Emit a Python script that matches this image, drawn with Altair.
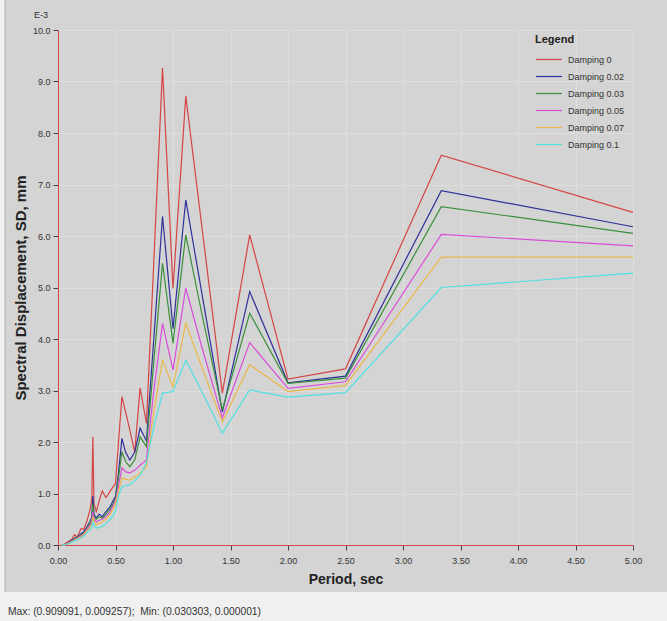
import altair as alt
import pandas as pd

periods = [0.0303, 0.05, 0.067, 0.083, 0.1, 0.125, 0.143, 0.167, 0.2, 0.222, 0.25, 0.278,
           0.294, 0.303, 0.313, 0.333, 0.357, 0.385, 0.417, 0.455, 0.5, 0.526, 0.556, 0.588,
           0.625, 0.667, 0.714, 0.769, 0.833, 0.909, 1.0, 1.111, 1.25, 1.429, 1.667, 2.0,
           2.5, 3.333, 5.0]

d0 = [0.001, 0.01, 0.03, 0.06, 0.08, 0.12, 0.2, 0.15, 0.32, 0.3, 0.45, 0.68,
      0.9, 2.1, 0.8, 0.65, 0.85, 1.05, 0.92, 1.05, 1.2, 2.0, 2.88, 2.58,
      2.23, 1.8, 3.05, 2.36, 5.5, 9.26, 4.98, 8.72, 6.2, 2.95, 6.02, 3.22,
      3.42, 7.57, 6.46]
d002 = [0.001, 0.005, 0.02, 0.04, 0.06, 0.1, 0.13, 0.15, 0.22, 0.25, 0.35, 0.45,
        0.55, 0.95, 0.6, 0.52, 0.6, 0.55, 0.65, 0.75, 0.95, 1.4, 2.07, 1.8,
        1.65, 1.8, 2.27, 2.02, 4.0, 6.38, 4.2, 6.7, 4.9, 2.58, 4.92, 3.15,
        3.28, 6.88, 6.18]
d003 = [0.001, 0.005, 0.015, 0.035, 0.05, 0.09, 0.12, 0.14, 0.2, 0.23, 0.32, 0.42,
        0.5, 0.8, 0.55, 0.5, 0.55, 0.52, 0.6, 0.7, 0.9, 1.3, 1.81, 1.62,
        1.52, 1.65, 2.1, 1.91, 3.55, 5.47, 3.92, 6.02, 4.5, 2.62, 4.5, 3.14,
        3.24, 6.57, 6.05]
d005 = [0.001, 0.004, 0.012, 0.03, 0.045, 0.08, 0.1, 0.13, 0.18, 0.21, 0.3, 0.38,
        0.45, 0.65, 0.5, 0.45, 0.48, 0.5, 0.55, 0.65, 0.85, 1.15, 1.5, 1.42,
        1.4, 1.45, 1.55, 1.65, 3.0, 4.3, 3.4, 4.99, 3.85, 2.47, 3.93, 3.04,
        3.17, 6.03, 5.81]
d007 = [0.001, 0.003, 0.01, 0.025, 0.04, 0.07, 0.09, 0.12, 0.16, 0.19, 0.27, 0.35,
        0.4, 0.55, 0.45, 0.4, 0.42, 0.45, 0.5, 0.6, 0.8, 1.05, 1.3, 1.28,
        1.26, 1.32, 1.4, 1.52, 2.6, 3.59, 3.07, 4.31, 3.45, 2.39, 3.5, 2.98,
        3.1, 5.59, 5.59]
d01 = [0.001, 0.003, 0.008, 0.02, 0.035, 0.06, 0.08, 0.1, 0.14, 0.17, 0.24, 0.3,
       0.35, 0.45, 0.38, 0.33, 0.34, 0.36, 0.42, 0.5, 0.65, 0.95, 1.13, 1.15,
       1.17, 1.25, 1.35, 1.6, 2.3, 2.95, 2.98, 3.59, 2.98, 2.17, 3.01, 2.87,
       2.96, 5.0, 5.28]

series_names = ["Damping 0", "Damping 0.02", "Damping 0.03", "Damping 0.05",
                "Damping 0.07", "Damping 0.1"]
series_values = [d0, d002, d003, d005, d007, d01]
series_colors = ["#d64545", "#30309a", "#3a8f3a", "#d94cd9", "#eab84a", "#4fe0e0"]

x_ticks = [0, 0.5, 1.0, 1.5, 2.0, 2.5, 3.0, 3.5, 4.0, 4.5, 5.0]
y_ticks = [0, 1, 2, 3, 4, 5, 6, 7, 8, 9, 10]

rows = []
for name, vals in zip(series_names, series_values):
    for p, v in zip(periods, vals):
        rows.append({"period": p, "sd": v, "series": name})
df = pd.DataFrame(rows)

FONT = "Liberation Sans, Arial, sans-serif"
W, H = 575, 515

lines = alt.Chart(df).mark_line(strokeWidth=1.2).encode(
    x=alt.X("period:Q", scale=alt.Scale(domain=[0, 5], nice=False),
            axis=alt.Axis(values=x_ticks, format=".2f", title="Period, sec",
                          titleFontSize=14, titleFontWeight="bold", titleColor="#222",
                          titleY=38, titleBaseline="alphabetic",
                          labelFontSize=9, labelColor="#333", labelPadding=6,
                          tickSize=5, tickColor="#444", domainColor="#d64545",
                          gridColor="#dedede", labelFlush=False)),
    y=alt.Y("sd:Q", scale=alt.Scale(domain=[0, 10], nice=False),
            axis=alt.Axis(values=y_ticks, format=".1f",
                          title="Spectral Displacement, SD, mm",
                          titleFontSize=15, titleFontWeight="bold", titleColor="#222",
                          titleX=-33, titleY=H / 2, titleAngle=-90, titleAlign="center",
                          titleBaseline="alphabetic",
                          labelFontSize=9, labelColor="#333", labelPadding=3,
                          tickSize=5, tickColor="#444", domainColor="#d64545",
                          gridColor="#dedede", labelFlush=False)),
    color=alt.Color("series:N",
                    scale=alt.Scale(domain=series_names, range=series_colors),
                    legend=alt.Legend(title="Legend", orient="none", legendX=477, legendY=4,
                                      titleFontSize=11, titleFontWeight="bold",
                                      titleColor="#222", titlePadding=7,
                                      labelFontSize=9, labelColor="#333",
                                      symbolType="M-1,0H3", symbolSize=169,
                                      symbolStrokeWidth=1.2, labelOffset=18,
                                      rowPadding=4, padding=0)),
    order=alt.Order("period:Q"),
)

status_df = pd.DataFrame({"t": ["Max: (0.909091, 0.009257);\u00a0\u00a0Min: (0.030303, 0.000001)"]})
status_bg = alt.Chart(status_df).mark_rect(color="#f0f0f0").encode(
    x=alt.value(-58), x2=alt.value(W + 34), y=alt.value(H + 47), y2=alt.value(H + 76))
left_bg = alt.Chart(status_df).mark_rect(color="#f0f0f0").encode(
    x=alt.value(-58), x2=alt.value(-53), y=alt.value(-30), y2=alt.value(H + 47))
left_edge = alt.Chart(status_df).mark_rule(color="#b0b0b0", strokeWidth=1).encode(
    x=alt.value(-53), y=alt.value(-30), y2=alt.value(H + 47))
status_txt = alt.Chart(status_df).mark_text(
    align="left", baseline="middle", fontSize=10.3, color="#333", font=FONT
).encode(text="t:N", x=alt.value(-50), y=alt.value(H + 67))

e_df = pd.DataFrame({"t": ["E-3"]})
e3 = alt.Chart(e_df).mark_text(
    align="center", baseline="middle", fontSize=9, color="#333", font=FONT
).encode(text="t:N", x=alt.value(-17), y=alt.value(-15))

chart = alt.layer(status_bg, left_bg, left_edge, lines, status_txt, e3).properties(
    width=W, height=H,
    padding={"left": 58, "top": 30, "right": 34, "bottom": 76},
    autosize=alt.AutoSizeParams(type="none"),
    background="#d4d4d4",
).configure_view(fill="white", stroke=None).configure(font=FONT)

chart.save("out.html", embed_options={"renderer": "svg", "actions": False})
